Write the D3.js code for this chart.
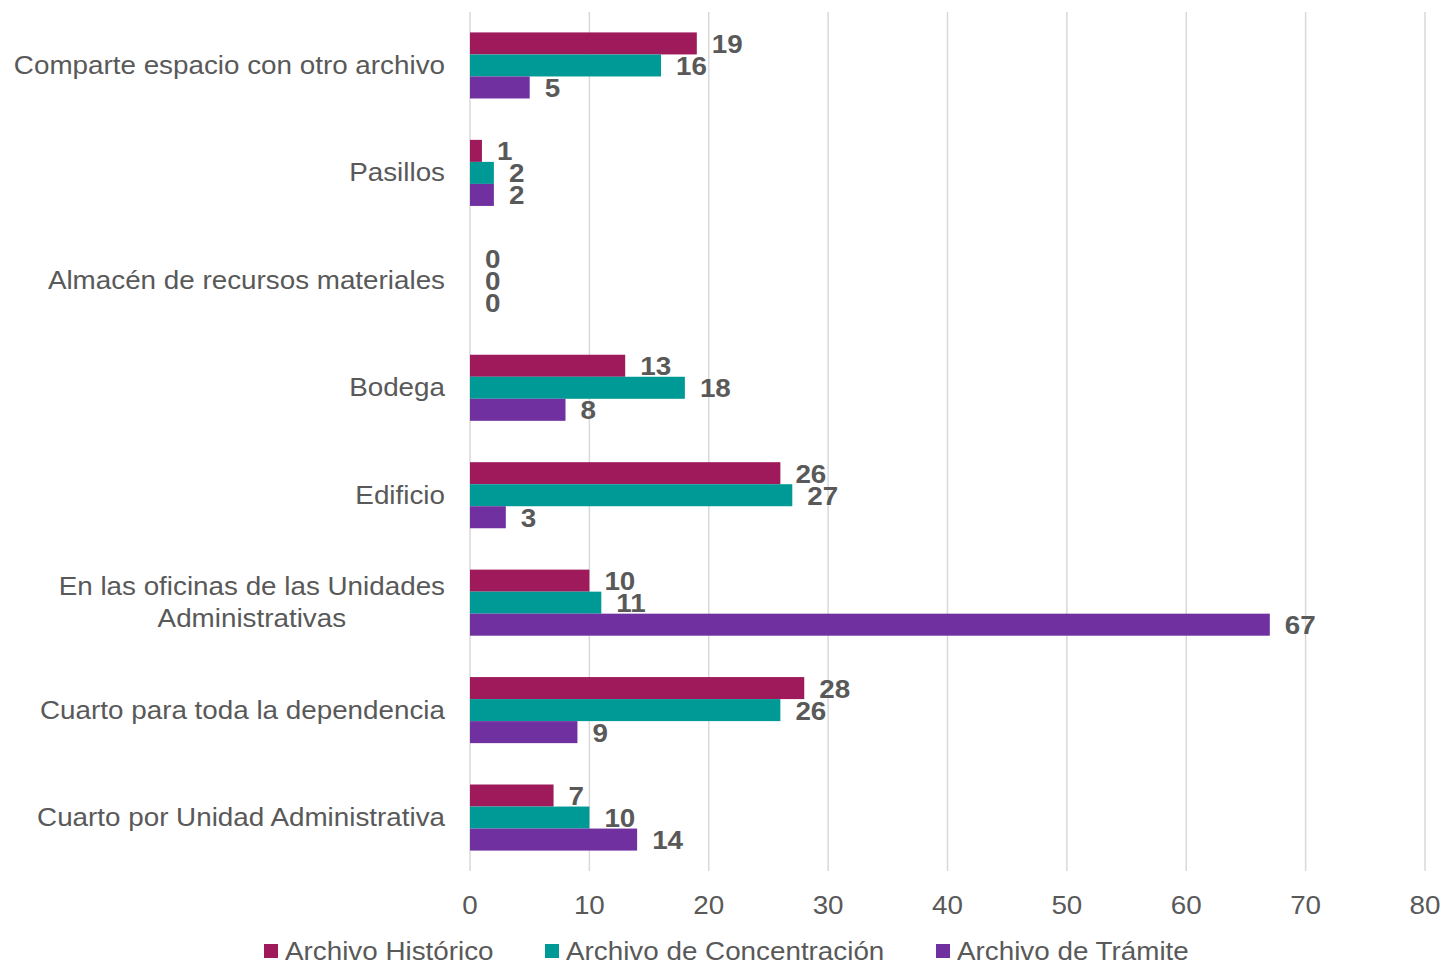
<!DOCTYPE html>
<html>
<head>
<meta charset="utf-8">
<script src="https://cdn.jsdelivr.net/npm/d3@7"></script>
<style>
  html, body { margin: 0; padding: 0; background: #fff; }
  svg { display: block; font-family: "Liberation Sans", Arial, sans-serif; }
</style>
</head>
<body>
<svg id="chart" width="1442" height="964"></svg>
<script>
// Locations where archives are kept, top to bottom
const categories = [
  "Comparte espacio con otro archivo",
  "Pasillos",
  "Almacén de recursos materiales",
  "Bodega",
  "Edificio",
  "En las oficinas de las Unidades Administrativas",
  "Cuarto para toda la dependencia",
  "Cuarto por Unidad Administrativa"
];
const seriesNames = ["Archivo Histórico", "Archivo de Concentración", "Archivo de Trámite"];
const historico     = [19, 1, 0, 13, 26, 10, 28, 7];
const concentracion = [16, 2, 0, 18, 27, 11, 26, 10];
const tramite       = [5, 2, 0, 8, 3, 67, 9, 14];
const xTicks = [0, 10, 20, 30, 40, 50, 60, 70, 80];
const colors = ["#9E1A5A", "#009A96", "#7030A0"];

const seriesValues = [historico, concentracion, tramite];
const svg = d3.select("#chart");
const textColor = "#595959";
const FS = 26;        // base font size
const SX = 1.07;      // slight horizontal widening of glyphs

// place a text at (px, py) with the widened glyph shape
function placeText(sel, px, py) {
  return sel.attr("x", 0).attr("y", 0)
    .attr("transform", `translate(${px},${py}) scale(${SX},1)`);
}

const x = d3.scaleLinear().domain([0, 80]).range([470, 1425]);
const y = d3.scaleBand().domain(categories).range([12, 871]).paddingInner(0.385).paddingOuter(0.19);
const ySub = d3.scaleBand().domain(seriesNames).range([0, y.bandwidth()]);

// Vertical gridlines
svg.append("g").selectAll("line").data(xTicks).join("line")
  .attr("x1", d => x(d)).attr("x2", d => x(d))
  .attr("y1", 12).attr("y2", 871)
  .attr("stroke", "#d9d9d9").attr("stroke-width", 1.5);

// X tick labels
svg.append("g").selectAll("text").data(xTicks).join("text")
  .each(function (d) { placeText(d3.select(this), x(d), 914); })
  .attr("text-anchor", "middle")
  .attr("font-size", FS).attr("fill", textColor)
  .text(d => d);

// Category labels (long one wrapped onto two centred lines)
const wrapMap = {
  "En las oficinas de las Unidades Administrativas": ["En las oficinas de las Unidades", "Administrativas"]
};
const catG = svg.append("g");
categories.forEach(c => {
  const lines = wrapMap[c] || [c];
  const cy = y(c) + y.bandwidth() / 2;
  const lh = 32;
  const g = catG.append("g").attr("transform", `translate(445,${cy}) scale(${SX},1)`);
  const t = g.append("text")
    .attr("font-size", FS).attr("fill", textColor)
    .attr("text-anchor", lines.length > 1 ? "middle" : "end");
  lines.forEach((ln, i) => {
    t.append("tspan")
      .attr("x", 0)
      .attr("y", 8.5 + (i - (lines.length - 1) / 2) * lh)
      .text(ln);
  });
  if (lines.length > 1) {
    const w = t.node().getBBox().width;
    t.selectAll("tspan").attr("x", -w / 2);
  }
});

// Bars and value labels
const rows = [];
categories.forEach((c, ci) => {
  seriesNames.forEach((s, si) => {
    rows.push({ cat: c, series: s, si, value: seriesValues[si][ci] });
  });
});

svg.append("g").selectAll("rect").data(rows).join("rect")
  .attr("x", x(0))
  .attr("y", d => y(d.cat) + ySub(d.series))
  .attr("width", d => x(d.value) - x(0))
  .attr("height", ySub.bandwidth())
  .attr("fill", d => colors[d.si]);

svg.append("g").selectAll("text").data(rows).join("text")
  .each(function (d) {
    placeText(d3.select(this), x(d.value) + 15, y(d.cat) + ySub(d.series) + ySub.bandwidth() / 2 + 9.5);
  })
  .attr("font-size", FS).attr("font-weight", "bold").attr("fill", textColor)
  .text(d => d.value);

// Legend
const legendX = [264, 545, 936];
const lg = svg.append("g");
seriesNames.forEach((s, i) => {
  lg.append("rect").attr("x", legendX[i]).attr("y", 944).attr("width", 14).attr("height", 14).attr("fill", colors[i]);
  placeText(lg.append("text"), legendX[i] + 21, 960)
    .attr("font-size", FS).attr("fill", textColor).text(s);
});
</script>
</body>
</html>
